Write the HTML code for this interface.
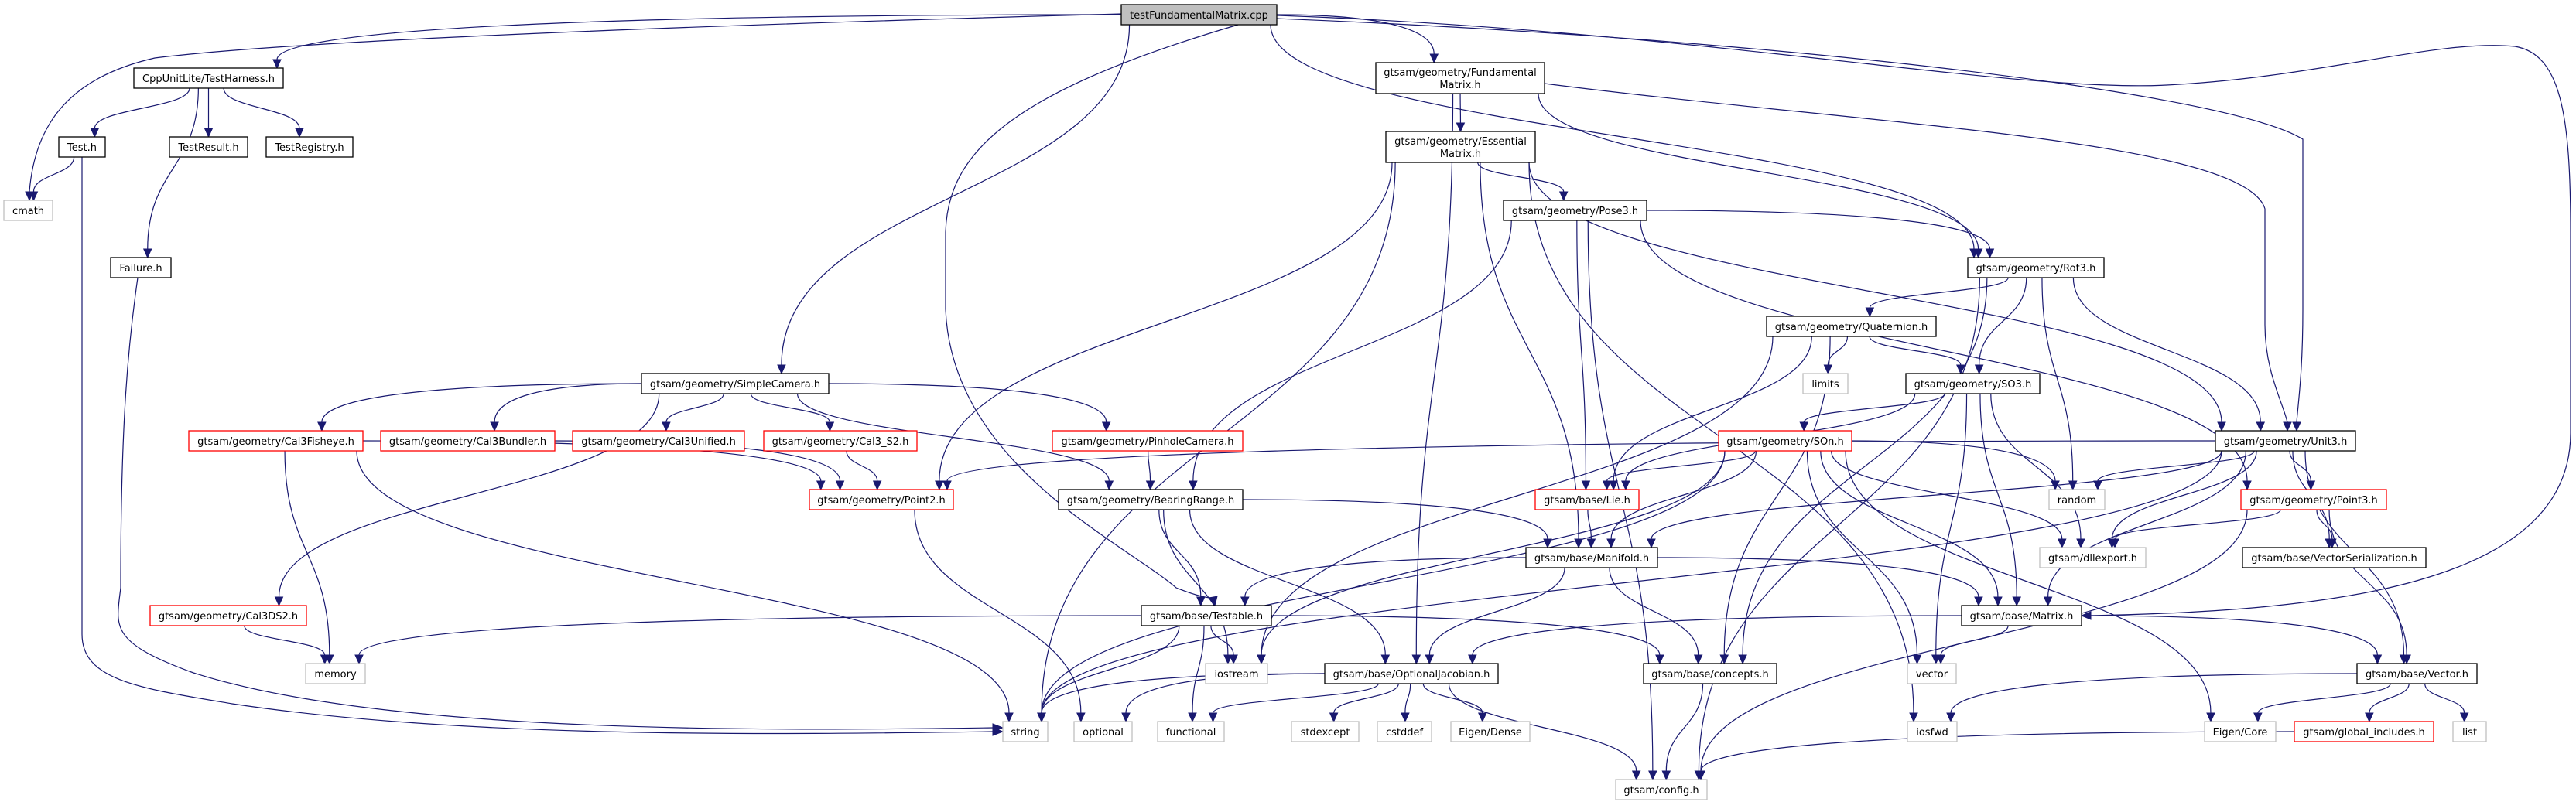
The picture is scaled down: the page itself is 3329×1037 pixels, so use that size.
<!DOCTYPE html>
<html><head><meta charset="utf-8">
<style>
html,body{margin:0;padding:0;background:#fff;}
svg{display:block;}
text{font-family:"DejaVu Sans","Liberation Sans",sans-serif;font-size:13px;fill:#000;}
.b{fill:#fff;stroke:#000;stroke-width:1.3;}
.r{fill:#fff;stroke:#ff0000;stroke-width:1.3;}
.g{fill:#fff;stroke:#bfbfbf;stroke-width:1.3;}
.t{fill:#bfbfbf;stroke:#000;stroke-width:1.3;}
.e{fill:none;stroke:#191970;stroke-width:1.2;}
.a{fill:#191970;stroke:#191970;}
</style></head>
<body>
<svg id="s" width="3329" height="1037" viewBox="0 0 3329 1037" xmlns="http://www.w3.org/2000/svg">
<g id="edges"></g>
<g id="nodes">
<rect id="T" class="t" x="1449" y="6" width="201" height="26"/><text x="1549.5" y="24" text-anchor="middle">testFundamentalMatrix.cpp</text>
<rect id="CUL" class="b" x="173" y="88" width="193" height="26"/><text x="269.5" y="106" text-anchor="middle">CppUnitLite/TestHarness.h</text>
<rect id="TestH" class="b" x="76" y="177" width="60" height="26"/><text x="106" y="195" text-anchor="middle">Test.h</text>
<rect id="TestResult" class="b" x="219" y="177" width="101" height="26"/><text x="269.5" y="195" text-anchor="middle">TestResult.h</text>
<rect id="TestRegistry" class="b" x="344" y="177" width="112" height="26"/><text x="400" y="195" text-anchor="middle">TestRegistry.h</text>
<rect id="cmath" class="g" x="5" y="259" width="63" height="26"/><text x="36.5" y="277" text-anchor="middle">cmath</text>
<rect id="Failure" class="b" x="143" y="333" width="78" height="26"/><text x="182" y="351" text-anchor="middle">Failure.h</text>
<rect id="Fund" class="b" x="1778" y="81" width="218" height="40"/><text x="1887" y="98" text-anchor="middle">gtsam/geometry/Fundamental</text><text x="1887" y="114" text-anchor="middle">Matrix.h</text>
<rect id="Ess" class="b" x="1791" y="170" width="193" height="40"/><text x="1887.5" y="187" text-anchor="middle">gtsam/geometry/Essential</text><text x="1887.5" y="203" text-anchor="middle">Matrix.h</text>
<rect id="Pose3" class="b" x="1943" y="259" width="185" height="26"/><text x="2035.5" y="277" text-anchor="middle">gtsam/geometry/Pose3.h</text>
<rect id="Rot3" class="b" x="2543" y="333" width="176" height="26"/><text x="2631" y="351" text-anchor="middle">gtsam/geometry/Rot3.h</text>
<rect id="Quat" class="b" x="2283" y="409" width="219" height="26"/><text x="2392.5" y="427" text-anchor="middle">gtsam/geometry/Quaternion.h</text>
<rect id="limits" class="g" x="2330" y="483" width="58" height="26"/><text x="2359" y="501" text-anchor="middle">limits</text>
<rect id="SimpleCamera" class="b" x="829" y="483" width="242" height="26"/><text x="950" y="501" text-anchor="middle">gtsam/geometry/SimpleCamera.h</text>
<rect id="SO3" class="b" x="2463" y="483" width="173" height="26"/><text x="2549.5" y="501" text-anchor="middle">gtsam/geometry/SO3.h</text>
<rect id="Cal3Fisheye" class="r" x="244" y="557" width="225" height="26"/><text x="356.5" y="575" text-anchor="middle">gtsam/geometry/Cal3Fisheye.h</text>
<rect id="Cal3Bundler" class="r" x="492" y="557" width="225" height="26"/><text x="604.5" y="575" text-anchor="middle">gtsam/geometry/Cal3Bundler.h</text>
<rect id="Cal3Unified" class="r" x="740" y="557" width="222" height="26"/><text x="851" y="575" text-anchor="middle">gtsam/geometry/Cal3Unified.h</text>
<rect id="Cal3S2" class="r" x="987" y="557" width="198" height="26"/><text x="1086" y="575" text-anchor="middle">gtsam/geometry/Cal3_S2.h</text>
<rect id="Pinhole" class="r" x="1360" y="557" width="246" height="26"/><text x="1483" y="575" text-anchor="middle">gtsam/geometry/PinholeCamera.h</text>
<rect id="SOn" class="r" x="2221" y="557" width="172" height="26"/><text x="2307" y="575" text-anchor="middle">gtsam/geometry/SOn.h</text>
<rect id="Unit3" class="b" x="2863" y="557" width="181" height="26"/><text x="2953.5" y="575" text-anchor="middle">gtsam/geometry/Unit3.h</text>
<rect id="Point2" class="r" x="1046" y="633" width="186" height="26"/><text x="1139" y="651" text-anchor="middle">gtsam/geometry/Point2.h</text>
<rect id="Bearing" class="b" x="1368" y="633" width="238" height="26"/><text x="1487" y="651" text-anchor="middle">gtsam/geometry/BearingRange.h</text>
<rect id="Lie" class="r" x="1984" y="633" width="134" height="26"/><text x="2051" y="651" text-anchor="middle">gtsam/base/Lie.h</text>
<rect id="random" class="g" x="2648" y="633" width="72" height="26"/><text x="2684" y="651" text-anchor="middle">random</text>
<rect id="Point3" class="r" x="2896" y="633" width="188" height="26"/><text x="2990" y="651" text-anchor="middle">gtsam/geometry/Point3.h</text>
<rect id="Manifold" class="b" x="1972" y="708" width="170" height="26"/><text x="2057" y="726" text-anchor="middle">gtsam/base/Manifold.h</text>
<rect id="dll" class="g" x="2636" y="708" width="137" height="26"/><text x="2704.5" y="726" text-anchor="middle">gtsam/dllexport.h</text>
<rect id="VecSer" class="b" x="2898" y="708" width="237" height="26"/><text x="3016.5" y="726" text-anchor="middle">gtsam/base/VectorSerialization.h</text>
<rect id="Cal3DS2" class="r" x="194" y="783" width="202" height="26"/><text x="295" y="801" text-anchor="middle">gtsam/geometry/Cal3DS2.h</text>
<rect id="Testable" class="b" x="1475" y="783" width="168" height="26"/><text x="1559" y="801" text-anchor="middle">gtsam/base/Testable.h</text>
<rect id="Matrix" class="b" x="2535" y="783" width="155" height="26"/><text x="2612.5" y="801" text-anchor="middle">gtsam/base/Matrix.h</text>
<rect id="memory" class="g" x="395" y="858" width="77" height="26"/><text x="433.5" y="876" text-anchor="middle">memory</text>
<rect id="iostream" class="g" x="1558" y="858" width="80" height="26"/><text x="1598" y="876" text-anchor="middle">iostream</text>
<rect id="OptJac" class="b" x="1712" y="858" width="224" height="26"/><text x="1824" y="876" text-anchor="middle">gtsam/base/OptionalJacobian.h</text>
<rect id="concepts" class="b" x="2124" y="858" width="172" height="26"/><text x="2210" y="876" text-anchor="middle">gtsam/base/concepts.h</text>
<rect id="vector" class="g" x="2465" y="858" width="63" height="26"/><text x="2496.5" y="876" text-anchor="middle">vector</text>
<rect id="Vector" class="b" x="3046" y="858" width="155" height="26"/><text x="3123.5" y="876" text-anchor="middle">gtsam/base/Vector.h</text>
<rect id="string" class="g" x="1296" y="933" width="58" height="26"/><text x="1325" y="951" text-anchor="middle">string</text>
<rect id="optional" class="g" x="1388" y="933" width="75" height="26"/><text x="1425.5" y="951" text-anchor="middle">optional</text>
<rect id="functional" class="g" x="1496" y="933" width="86" height="26"/><text x="1539" y="951" text-anchor="middle">functional</text>
<rect id="stdexcept" class="g" x="1669" y="933" width="87" height="26"/><text x="1712.5" y="951" text-anchor="middle">stdexcept</text>
<rect id="cstddef" class="g" x="1780" y="933" width="70" height="26"/><text x="1815" y="951" text-anchor="middle">cstddef</text>
<rect id="EDense" class="g" x="1875" y="933" width="102" height="26"/><text x="1926" y="951" text-anchor="middle">Eigen/Dense</text>
<rect id="iosfwd" class="g" x="2465" y="933" width="64" height="26"/><text x="2497" y="951" text-anchor="middle">iosfwd</text>
<rect id="ECore" class="g" x="2849" y="933" width="92" height="26"/><text x="2895" y="951" text-anchor="middle">Eigen/Core</text>
<rect id="global" class="r" x="2965" y="933" width="180" height="26"/><text x="3055" y="951" text-anchor="middle">gtsam/global_includes.h</text>
<rect id="list" class="g" x="3170" y="933" width="43" height="26"/><text x="3191.5" y="951" text-anchor="middle">list</text>
<rect id="config" class="g" x="2088" y="1008" width="118" height="26"/><text x="2147" y="1026" text-anchor="middle">gtsam/config.h</text>
</g>
</svg>
<script>
(function(){
var E=[["T","CUL"],["T","Fund"],["T","SimpleCamera"],["T","Rot3"],
["CUL","TestH"],["CUL","TestResult"],["CUL","TestRegistry"],["CUL","Failure"],
["TestH","cmath"],
["Fund","Ess"],["Fund","OptJac"],["Fund","Rot3"],
["Ess","Pose3"],["Ess","Point2"],["Ess","string"],["Ess","Manifold"],["Ess","iosfwd"],["Ess","Unit3"],
["Pose3","Rot3"],["Pose3","Point3"],["Pose3","Bearing"],["Pose3","Lie"],["Pose3","config"],
["Rot3","Quat"],["Rot3","SO3"],["Rot3","random"],["Rot3","Unit3"],["Rot3","concepts"],["Rot3","config"],
["Quat","limits"],["Quat","Lie"],["Quat","SO3"],["Quat","concepts"],["Quat","iostream"],
["SO3","SOn"],["SO3","Lie"],["SO3","vector"],["SO3","dll"],["SO3","Matrix"],
["SOn","Lie"],["SOn","Manifold"],["SOn","random"],["SOn","dll"],["SOn","vector"],["SOn","ECore"],["SOn","iostream"],["SOn","string"],["SOn","Matrix"],
["Unit3","Point2"],["Unit3","Manifold"],["Unit3","random"],["Unit3","dll"],["Unit3","Point3"],["Unit3","VecSer"],["Unit3","Matrix"],["Unit3","Vector"],["Unit3","string"],
["Point3","dll"],["Point3","VecSer"],["Point3","Vector"],["Point3","config"],
["SimpleCamera","Cal3Fisheye"],["SimpleCamera","Cal3Bundler"],["SimpleCamera","Cal3Unified"],["SimpleCamera","Cal3S2"],["SimpleCamera","Pinhole"],["SimpleCamera","Bearing"],["SimpleCamera","Cal3DS2"],
["Cal3Fisheye","memory"],["Cal3Fisheye","Point2"],["Cal3Fisheye","string"],["Cal3Bundler","Point2"],["Cal3S2","Point2"],["Cal3DS2","memory"],
["Pinhole","Bearing"],["Point2","optional"],
["Bearing","Testable"],["Bearing","iostream"],["Bearing","OptJac"],["Bearing","Manifold"],
["Lie","Manifold"],
["Manifold","Testable"],["Manifold","OptJac"],["Manifold","concepts"],["Manifold","Matrix"],
["Testable","memory"],["Testable","iostream"],["Testable","string"],["Testable","functional"],["Testable","concepts"],
["Matrix","OptJac"],["Matrix","vector"],["Matrix","Vector"],
["OptJac","string"],["OptJac","optional"],["OptJac","functional"],["OptJac","stdexcept"],["OptJac","cstddef"],["OptJac","EDense"],["OptJac","config"],
["concepts","config"],
["Vector","iosfwd"],["Vector","ECore"],["Vector","global"],["Vector","list"],
["global","config"]];
var C=[
["M1449,18 C1000,30 400,50 200,75 C90,100 45,160 38,248",38,248,38,259],
["M106,203 L106,820 C106,880 180,890 300,910 C600,955 1000,950 1283,946",1283,946,1296,946],
["M178,359 C165,450 156,550 156,760 C150,810 140,830 250,870 C500,950 1000,945 1283,941",1283,941,1296,941],
["M1650,20 C2200,40 2600,120 2800,110 C3000,100 3150,50 3250,60 C3310,70 3322,150 3322,300 L3322,560 C3322,760 3000,790 2702,796",2702,796,2690,796],
["M1650,24 C2300,50 2880,120 2976,180 L2976,400 C2976,480 2970,520 2968,546",2968,546,2968,557],
["M1996,108 C2400,160 2900,180 2927,270 L2927,420 C2927,480 2950,520 2956,546",2956,546,2956,557],
["M1600,32 C1300,120 1225,200 1222,300 L1222,400 C1230,600 1450,700 1520,760 C1545,770 1565,775 1568,772",1568,772,1570,783]
];
function bb(id){var r=document.getElementById(id);return {x:+r.getAttribute("x"),y:+r.getAttribute("y"),w:+r.getAttribute("width"),h:+r.getAttribute("height")};}
function cl(v,a,b){return Math.max(a,Math.min(b,v));}
function arrow(bx,by,tx,ty){var dx=tx-bx,dy=ty-by,l=Math.sqrt(dx*dx+dy*dy)||1;var nx=-dy/l*5,ny=dx/l*5;
 return '<polygon class="a" points="'+(bx+nx)+','+(by+ny)+' '+(bx-nx)+','+(by-ny)+' '+tx+','+ty+'"/>';}
var g=document.getElementById("edges"),out="";
E.forEach(function(e){
 var s=bb(e[0]),t=bb(e[1]);
 var scx=s.x+s.w/2,tcx=t.x+t.w/2;
 var sy=s.y+s.h,ey=t.y,dy=ey-sy;
 var sx=cl(scx+(tcx-scx)*0.15,s.x+8,s.x+s.w-8);
 var ex=cl(tcx+(scx-tcx)*0.1,t.x+8,t.x+t.w-8);
 var L=11,e2=ey-L,k=(e2-sy)*0.5,d;
 if(Math.abs(tcx-scx)>6*dy && dy<120){
  sx=scx>tcx?s.x:s.x+s.w; sy=s.y+s.h/2; k=(e2-sy)*0.6;
  d="M"+sx+","+sy+"C"+(sx+(ex-sx)*0.7)+","+sy+" "+ex+","+(e2-k)+" "+ex+","+e2;
 } else {
  d="M"+sx+","+sy+"C"+sx+","+(sy+k)+" "+ex+","+(e2-k)+" "+ex+","+e2;
 }
 out+='<path class="e" d="'+d+'"/>'+arrow(ex,e2,ex,ey);
});
C.forEach(function(c){out+='<path class="e" d="'+c[0]+'"/>'+arrow(c[1],c[2],c[3],c[4]);});
g.innerHTML=out;
})();
</script>
</body></html>
